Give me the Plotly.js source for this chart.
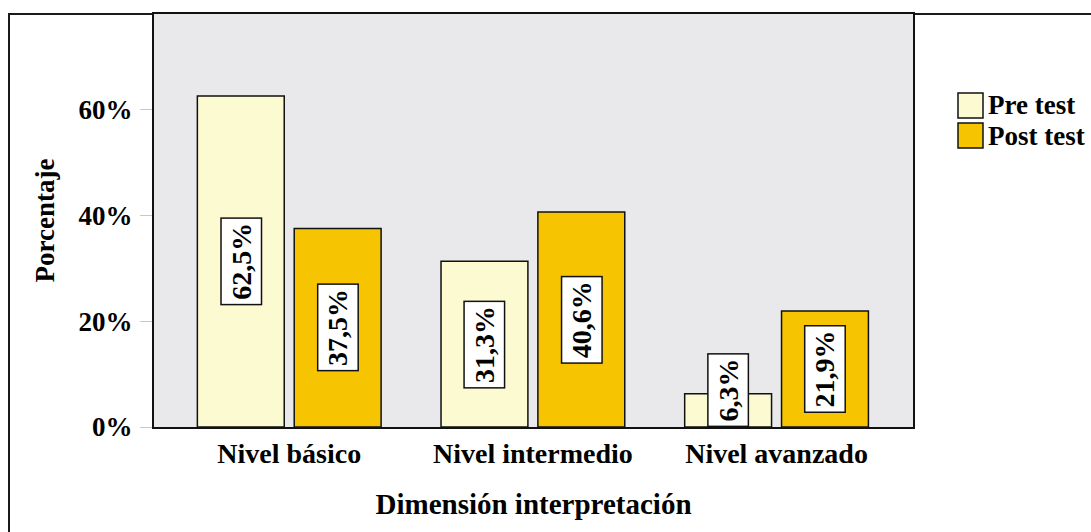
<!DOCTYPE html>
<html>
<head>
<meta charset="utf-8">
<script src="https://cdn.plot.ly/plotly-3.0.1.min.js"></script>
<style>
  html, body { margin: 0; padding: 0; background: #ffffff; overflow: hidden; }
  #frame {
    position: absolute; left: 8px; top: 13px; width: 1200px; height: 600px;
    border: 2px solid #1a1a1a; box-sizing: border-box;
  }
  #chart { position: absolute; left: 0; top: 0; width: 1091px; height: 532px; }
</style>
</head>
<body>
<div id="frame"></div>
<div id="chart"></div>
<script>
// Levels of the "interpretación" dimension and the share of students in each
const categories = ['Nivel básico', 'Nivel intermedio', 'Nivel avanzado'];
const preTest = [62.5, 31.3, 6.3];
const postTest = [37.5, 40.6, 21.9];
const seriesNames = ['Pre test', 'Post test'];
const yTickVals = [0, 20, 40, 60];
const yTickText = ['0%', '20%', '40%', '60%'];
const xTitle = 'Dimensión interpretación';
const yTitle = 'Porcentaje';

const serif = 'Liberation Serif, Times New Roman, serif';
const colors = ['#fcfad0', '#f6c400'];
const bargap = 0.205;
const slot = (1 - bargap) / 2;

const W = 1091, H = 532;
const margin = { l: 154, r: 178, t: 14, b: 105, autoexpand: false };
const plotW = W - margin.l - margin.r;
const plotH = H - margin.t - margin.b;
// pixel -> paper fraction helpers for the legend block
const px = (x) => (x - margin.l) / plotW;
const py = (y) => (H - margin.b - y) / plotH;

const seriesValues = [preTest, postTest];

const traces = seriesValues.map((vals, k) => ({
  type: 'bar',
  name: seriesNames[k],
  x: categories,
  y: vals,
  marker: { color: colors[k], line: { color: '#111111', width: 1.5 } },
  hoverinfo: 'skip'
}));

// Rotated value labels in white boxes, centred on each bar (or resting on the
// baseline when the bar is too short to hold the box)
function fmt(v) { return v.toFixed(1).replace('.', ',') + '%'; }
const annotations = [];
seriesValues.forEach((vals, k) => {
  vals.forEach((v, i) => {
    const small = v < 10;
    annotations.push({
      x: i + (k === 0 ? -slot / 2 : slot / 2),
      xref: 'x',
      y: small ? 0 : v / 2,
      yref: 'y',
      yanchor: small ? 'bottom' : 'middle',
      xanchor: 'center',
      text: fmt(v),
      textangle: -90,
      showarrow: false,
      bgcolor: '#ffffff',
      bordercolor: '#111111',
      borderwidth: 1.5,
      borderpad: 4,
      font: { family: serif, size: 28, color: '#000', weight: 'bold' }
    });
  });
});

// Legend: large square swatches stacked edge to edge, names to the right
const shapes = [];
const swatch = 25, legendLeft = 958, legendTop = 93;
seriesNames.forEach((name, k) => {
  const top = legendTop + k * (swatch + 5);
  shapes.push({
    type: 'rect', xref: 'paper', yref: 'paper',
    x0: px(legendLeft), x1: px(legendLeft + swatch),
    y0: py(top + swatch), y1: py(top),
    fillcolor: colors[k], line: { color: '#111', width: 1.5 }
  });
  annotations.push({
    xref: 'paper', yref: 'paper',
    x: px(legendLeft + swatch + 3), y: py(top + swatch / 2),
    xanchor: 'left', yanchor: 'middle',
    text: name, showarrow: false,
    font: { family: serif, size: 27, color: '#000', weight: 'bold' }
  });
});

const layout = {
  width: W,
  height: H,
  margin: margin,
  paper_bgcolor: 'rgba(0,0,0,0)',
  plot_bgcolor: '#e9e9eb',
  barmode: 'group',
  bargap: bargap,
  bargroupgap: 0.103,
  showlegend: false,
  xaxis: {
    type: 'category',
    range: [-0.555, 2.56],
    showline: true, mirror: true, linecolor: '#111', linewidth: 2,
    ticks: '', showgrid: false, zeroline: false,
    tickfont: { family: serif, size: 28, color: '#000', weight: 'bold' },
    title: { text: xTitle, standoff: 26, font: { family: serif, size: 29, color: '#000', weight: 'bold' } }
  },
  yaxis: {
    range: [0, 78],
    tickvals: yTickVals, ticktext: yTickText,
    ticks: 'outside', ticklen: 12, tickcolor: '#c8c8c8', tickwidth: 1,
    ticklabelstandoff: 2,
    showline: true, mirror: true, linecolor: '#111', linewidth: 2,
    showgrid: false, zeroline: false,
    tickfont: { family: serif, size: 27, color: '#000', weight: 'bold' },
    title: { text: yTitle, standoff: 16, font: { family: serif, size: 27, color: '#000', weight: 'bold' } }
  },
  shapes: shapes,
  annotations: annotations
};

Plotly.newPlot('chart', traces, layout, { staticPlot: true, displayModeBar: false });
</script>
</body>
</html>
